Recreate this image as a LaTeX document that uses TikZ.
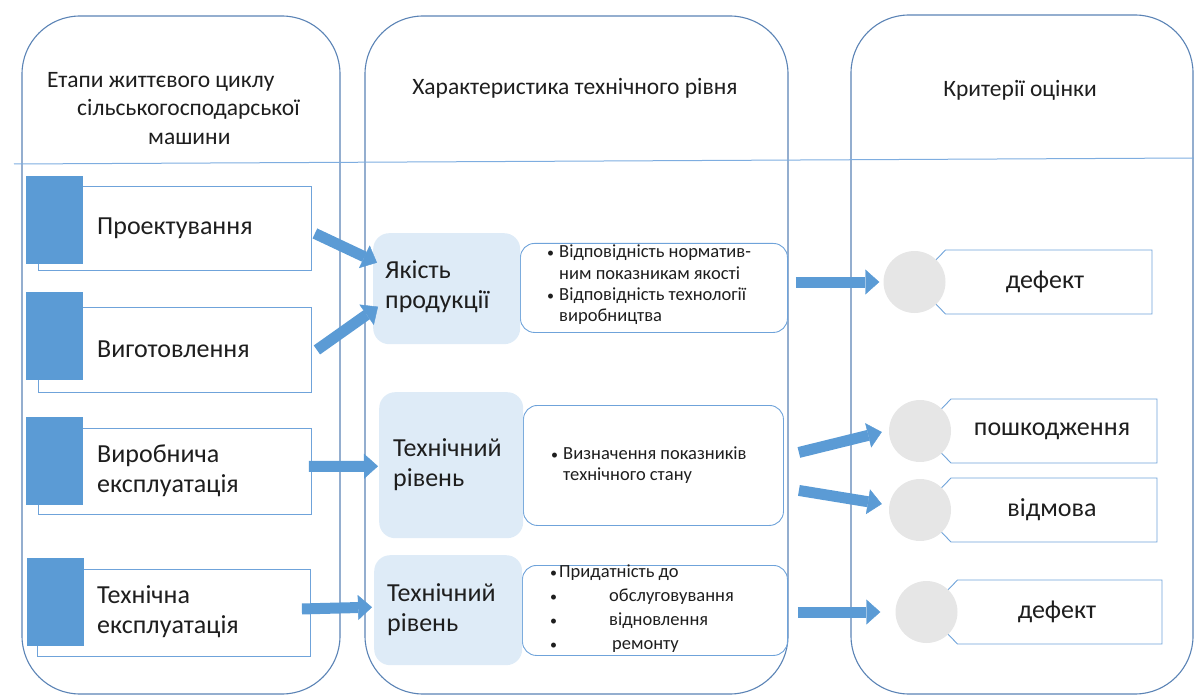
\documentclass[tikz,border=0pt]{standalone}
\usepackage{fontspec}
\setmainfont{Carlito}
\usetikzlibrary{arrows.meta,calc}
\definecolor{colline}{HTML}{5A83B5}
\definecolor{boxline}{HTML}{6FA3DA}
\definecolor{hlinec}{HTML}{7EADE0}
\definecolor{lightfill}{HTML}{DEEBF7}
\definecolor{circfill}{HTML}{E6E6E6}
\definecolor{arrowfill}{HTML}{5B9BD5}
\definecolor{blockfill}{HTML}{5B9BD5}
\definecolor{txt}{HTML}{1E1E1E}
\newcommand\fsTitle{\fontsize{23.5}{28.5}\selectfont}
\newcommand\fsBig{\fontsize{26}{30}\selectfont}
\newcommand\fsSmall{\fontsize{18.5}{21.3}\selectfont}
\newcommand\bdot{{\fontsize{14}{14}\selectfont •}}
\newcommand\bl[1]{\makebox[12pt][l]{\bdot}#1}
\newcommand\tagshape[3]{\draw[tagline] ({#1+31},{#2-32}) -- (#3,{#2-32}) -- (#3,{#2+32}) -- ({#1+31},{#2+32}) -- (#1,#2) -- cycle;}
\begin{document}
\begin{tikzpicture}[x=1pt,y=-1pt,
  column/.style={draw=colline, line width=1.1pt, rounded corners=58pt},
  stagebox/.style={draw=boxline, line width=0.9pt, fill=white, minimum width=273pt, anchor=north west, inner sep=0pt},
  bluesq/.style={fill=blockfill, minimum width=57pt, minimum height=88pt, anchor=north west, inner sep=0pt},
  stagetxt/.style={text=txt, font=\fsBig, anchor=west, align=left, inner sep=0pt},
  titletxt/.style={text=txt, font=\fsTitle, inner sep=0pt},
  wbox/.style={draw=boxline, line width=0.9pt, fill=white, rounded corners=14pt, anchor=north west, inner sep=0pt},
  lbox/.style={fill=lightfill, rounded corners=16pt, anchor=north west, inner sep=0pt},
  bullettxt/.style={text=txt, font=\fsSmall, anchor=west, align=left, inner sep=0pt},
  circ/.style={circle, fill=circfill, minimum size=62pt, inner sep=0pt},
  tagline/.style={draw=boxline, line width=0.9pt, fill=white},
  tagtxt/.style={text=txt, font=\fsBig, inner sep=0pt},
  blockarrow/.style={draw=arrowfill, line width=11pt, -{Triangle[length=14pt,width=25pt,line width=0.4pt]}}
]
\useasboundingbox (0,0) rectangle (1194,695);
% columns
\draw[column] (22,694) rectangle (340,16);
\draw[column] (365,694) rectangle (788,16);
\draw[column] (851,694) rectangle (1193,15);
\draw[hlinec, line width=1pt] (14,164) -- (1194,158);
% titles
\node[titletxt, anchor=west, align=left] (title1) at (47,108.5) {Етапи життєвого циклу\\\hspace*{30pt}сільськогосподарської\\\hspace*{101pt}машини};
\node[titletxt] (title2) at (575,88) {Характеристика технічного рівня};
\node[titletxt] (title3) at (1020,90) {Критерії оцінки};
% stages
\node[stagebox, minimum height=84pt] (r1) at (38,186) {};
\node[bluesq] (b1) at (26,176) {};
\node[stagetxt] (s1) at (97,228) {Проектування};
\node[stagebox, minimum height=85pt] (r2) at (38,307) {};
\node[bluesq] (b2) at (26,292) {};
\node[stagetxt] (s2) at (97,349) {Виготовлення};
\node[stagebox, minimum height=86pt] (r3) at (38,428) {};
\node[bluesq] (b3) at (26,417) {};
\node[stagetxt] (s3) at (97,471) {Виробнича\\експлуатація};
\node[stagebox, minimum height=87pt] (r4) at (37,569) {};
\node[bluesq] (b4) at (27,558) {};
\node[stagetxt] (s4) at (97,612) {Технічна\\експлуатація};
% middle
\node[wbox, minimum width=267pt, minimum height=89pt] (w1) at (520,243) {};
\node[lbox, minimum width=147pt, minimum height=111pt] (m1) at (373,233) {};
\node[stagetxt] (m1t) at (385,287) {Якість\\продукції};
\node[bullettxt] (w1t) at (547,285) {\bl{Відповідність норматив-}\\\hspace*{12pt}ним показникам якості\\\bl{Відповідність технології}\\\hspace*{12pt}виробництва};
\node[wbox, minimum width=260pt, minimum height=120pt] (w2) at (523,405) {};
\node[lbox, minimum width=144pt, minimum height=146pt] (m2) at (379,392) {};
\node[stagetxt] (m2t) at (393,465) {Технічний\\рівень};
\node[bullettxt] (w2t) at (551,465) {\bl{Визначення показників}\\\hspace*{12pt}технічного стану};
\node[wbox, minimum width=265pt, minimum height=90pt] (w3) at (522,565) {};
\node[lbox, minimum width=148pt, minimum height=110pt] (m3) at (374,555) {};
\node[stagetxt] (m3t) at (387,610) {Технічний\\рівень};
\node[bullettxt, font=\fontsize{18.5}{24}\selectfont] (w3t) at (550,609) {\makebox[9pt][l]{\bdot}Придатність до\\\makebox[59pt][l]{\bdot}обслуговування\\\makebox[59pt][l]{\bdot}відновлення\\\makebox[62pt][l]{\bdot}ремонту};
% criteria
\tagshape{914.5}{282}{1152}
\node[circ] (c1) at (914.5,282) {};
\node[tagtxt] (t1) at (1045,282) {дефект};
\tagshape{920}{431}{1157}
\node[circ] (c2) at (920,431) {};
\node[tagtxt] (t2) at (1052,431) {пошкодження};
\tagshape{920}{510}{1157}
\node[circ] (c3) at (920,510) {};
\node[tagtxt] (t3) at (1052,510) {відмова};
\tagshape{926.5}{612}{1162}
\node[circ] (c4) at (926.5,612) {};
\node[tagtxt] (t4) at (1057,612) {дефект};
% arrows
\draw[blockarrow] ($(r1.east)+(3,5)$) -- ($(m1.west)+(4,-26)$);
\draw[blockarrow] ($(r2.east)+(5,0)$) -- ($(m1.west)+(5,18)$);
\draw[blockarrow] ($(r3.east)+(-3,-5)$) -- ($(m2.west)+(-1,1)$);
\draw[blockarrow] ($(r4.east)+(-9,-4)$) -- ($(m3.west)+(-2,-3)$);
\draw[blockarrow] ($(w1.east |- c1)+(8,0)$) -- ($(c1.west)+(-4,0)$);
\draw[blockarrow] ($(w2.east)+(15,-13)$) -- ($(c2.west)+(-7,1)$);
\draw[blockarrow] ($(w2.east)+(15,25)$) -- ($(c3.west)+(-7,-6)$);
\draw[blockarrow] ($(w3.east |- c4)+(10,0)$) -- ($(c4.west)+(-15,0)$);
\end{tikzpicture}
\end{document}
